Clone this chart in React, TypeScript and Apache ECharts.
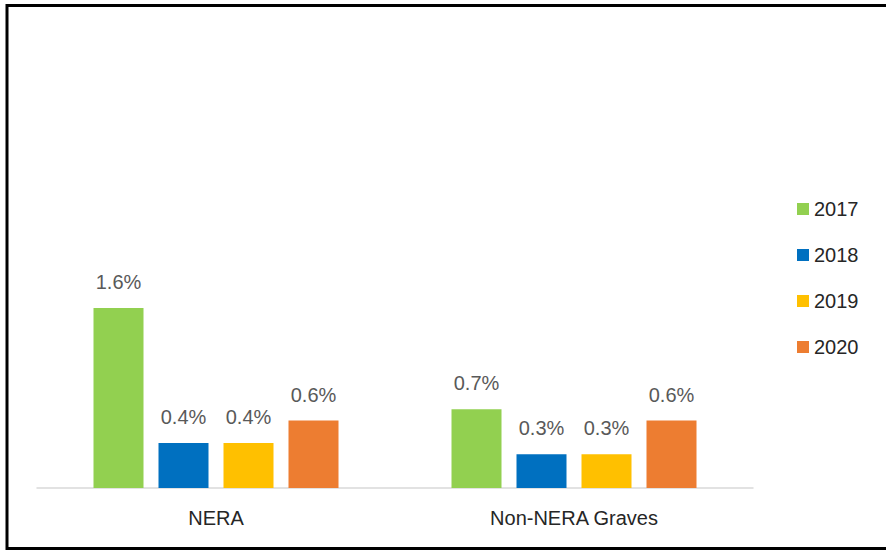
import React, { useEffect, useRef } from "react";
import * as echarts from "echarts";

const categories = ["NERA", "Non-NERA Graves"];
const years = ["2017", "2018", "2019", "2020"];
const values2017 = [1.6, 0.7];
const values2018 = [0.4, 0.3];
const values2019 = [0.4, 0.3];
const values2020 = [0.6, 0.6];
const colors = ["#92d050", "#0070c0", "#ffc000", "#ed7d31"];

const FONT = "Liberation Sans";

export default function App() {
  const ref = useRef<HTMLDivElement>(null);
  useEffect(() => {
    document.body.style.margin = "0";
    const chart = echarts.init(ref.current!, null, { renderer: "svg" });
    const seriesValues = [values2017, values2018, values2019, values2020];
    chart.setOption({
      animation: false,
      backgroundColor: "#ffffff",
      grid: { left: 37, right: 133, top: 263, bottom: 63 },
      legend: {
        orient: "vertical",
        left: 792,
        top: 194,
        itemWidth: 12,
        itemHeight: 12,
        itemGap: 26,
        icon: "rect",
        data: years,
        textStyle: { fontFamily: FONT, fontSize: 20, color: "#262626" },
      },
      xAxis: {
        type: "category",
        data: categories,
        axisLine: { lineStyle: { color: "#d9d9d9", width: 1.5 } },
        axisTick: { show: false },
        axisLabel: { fontFamily: FONT, fontSize: 20, color: "#262626", margin: 20 },
      },
      yAxis: { type: "value", min: 0, max: 2, show: false },
      series: years.map((y, i) => ({
        name: y,
        type: "bar",
        data: seriesValues[i],
        barWidth: 50,
        barGap: "30%",
        itemStyle: { color: colors[i] },
        label: {
          show: true,
          position: "top",
          distance: 16,
          formatter: (p: any) => p.value.toFixed(1) + "%",
          fontFamily: FONT,
          fontSize: 20,
          color: "#595959",
        },
      })),
      graphic: [
        {
          type: "polyline",
          shape: { points: [[886, 5.5], [7, 5.5], [7, 548.5], [886, 548.5]] },
          style: { stroke: "#000000", lineWidth: 3, fill: null },
          silent: true,
        },
      ],
    });
    return () => chart.dispose();
  }, []);
  return (
    <div
      ref={ref}
      style={{ position: "absolute", left: 0, top: 0, width: 886, height: 551 }}
    />
  );
}
